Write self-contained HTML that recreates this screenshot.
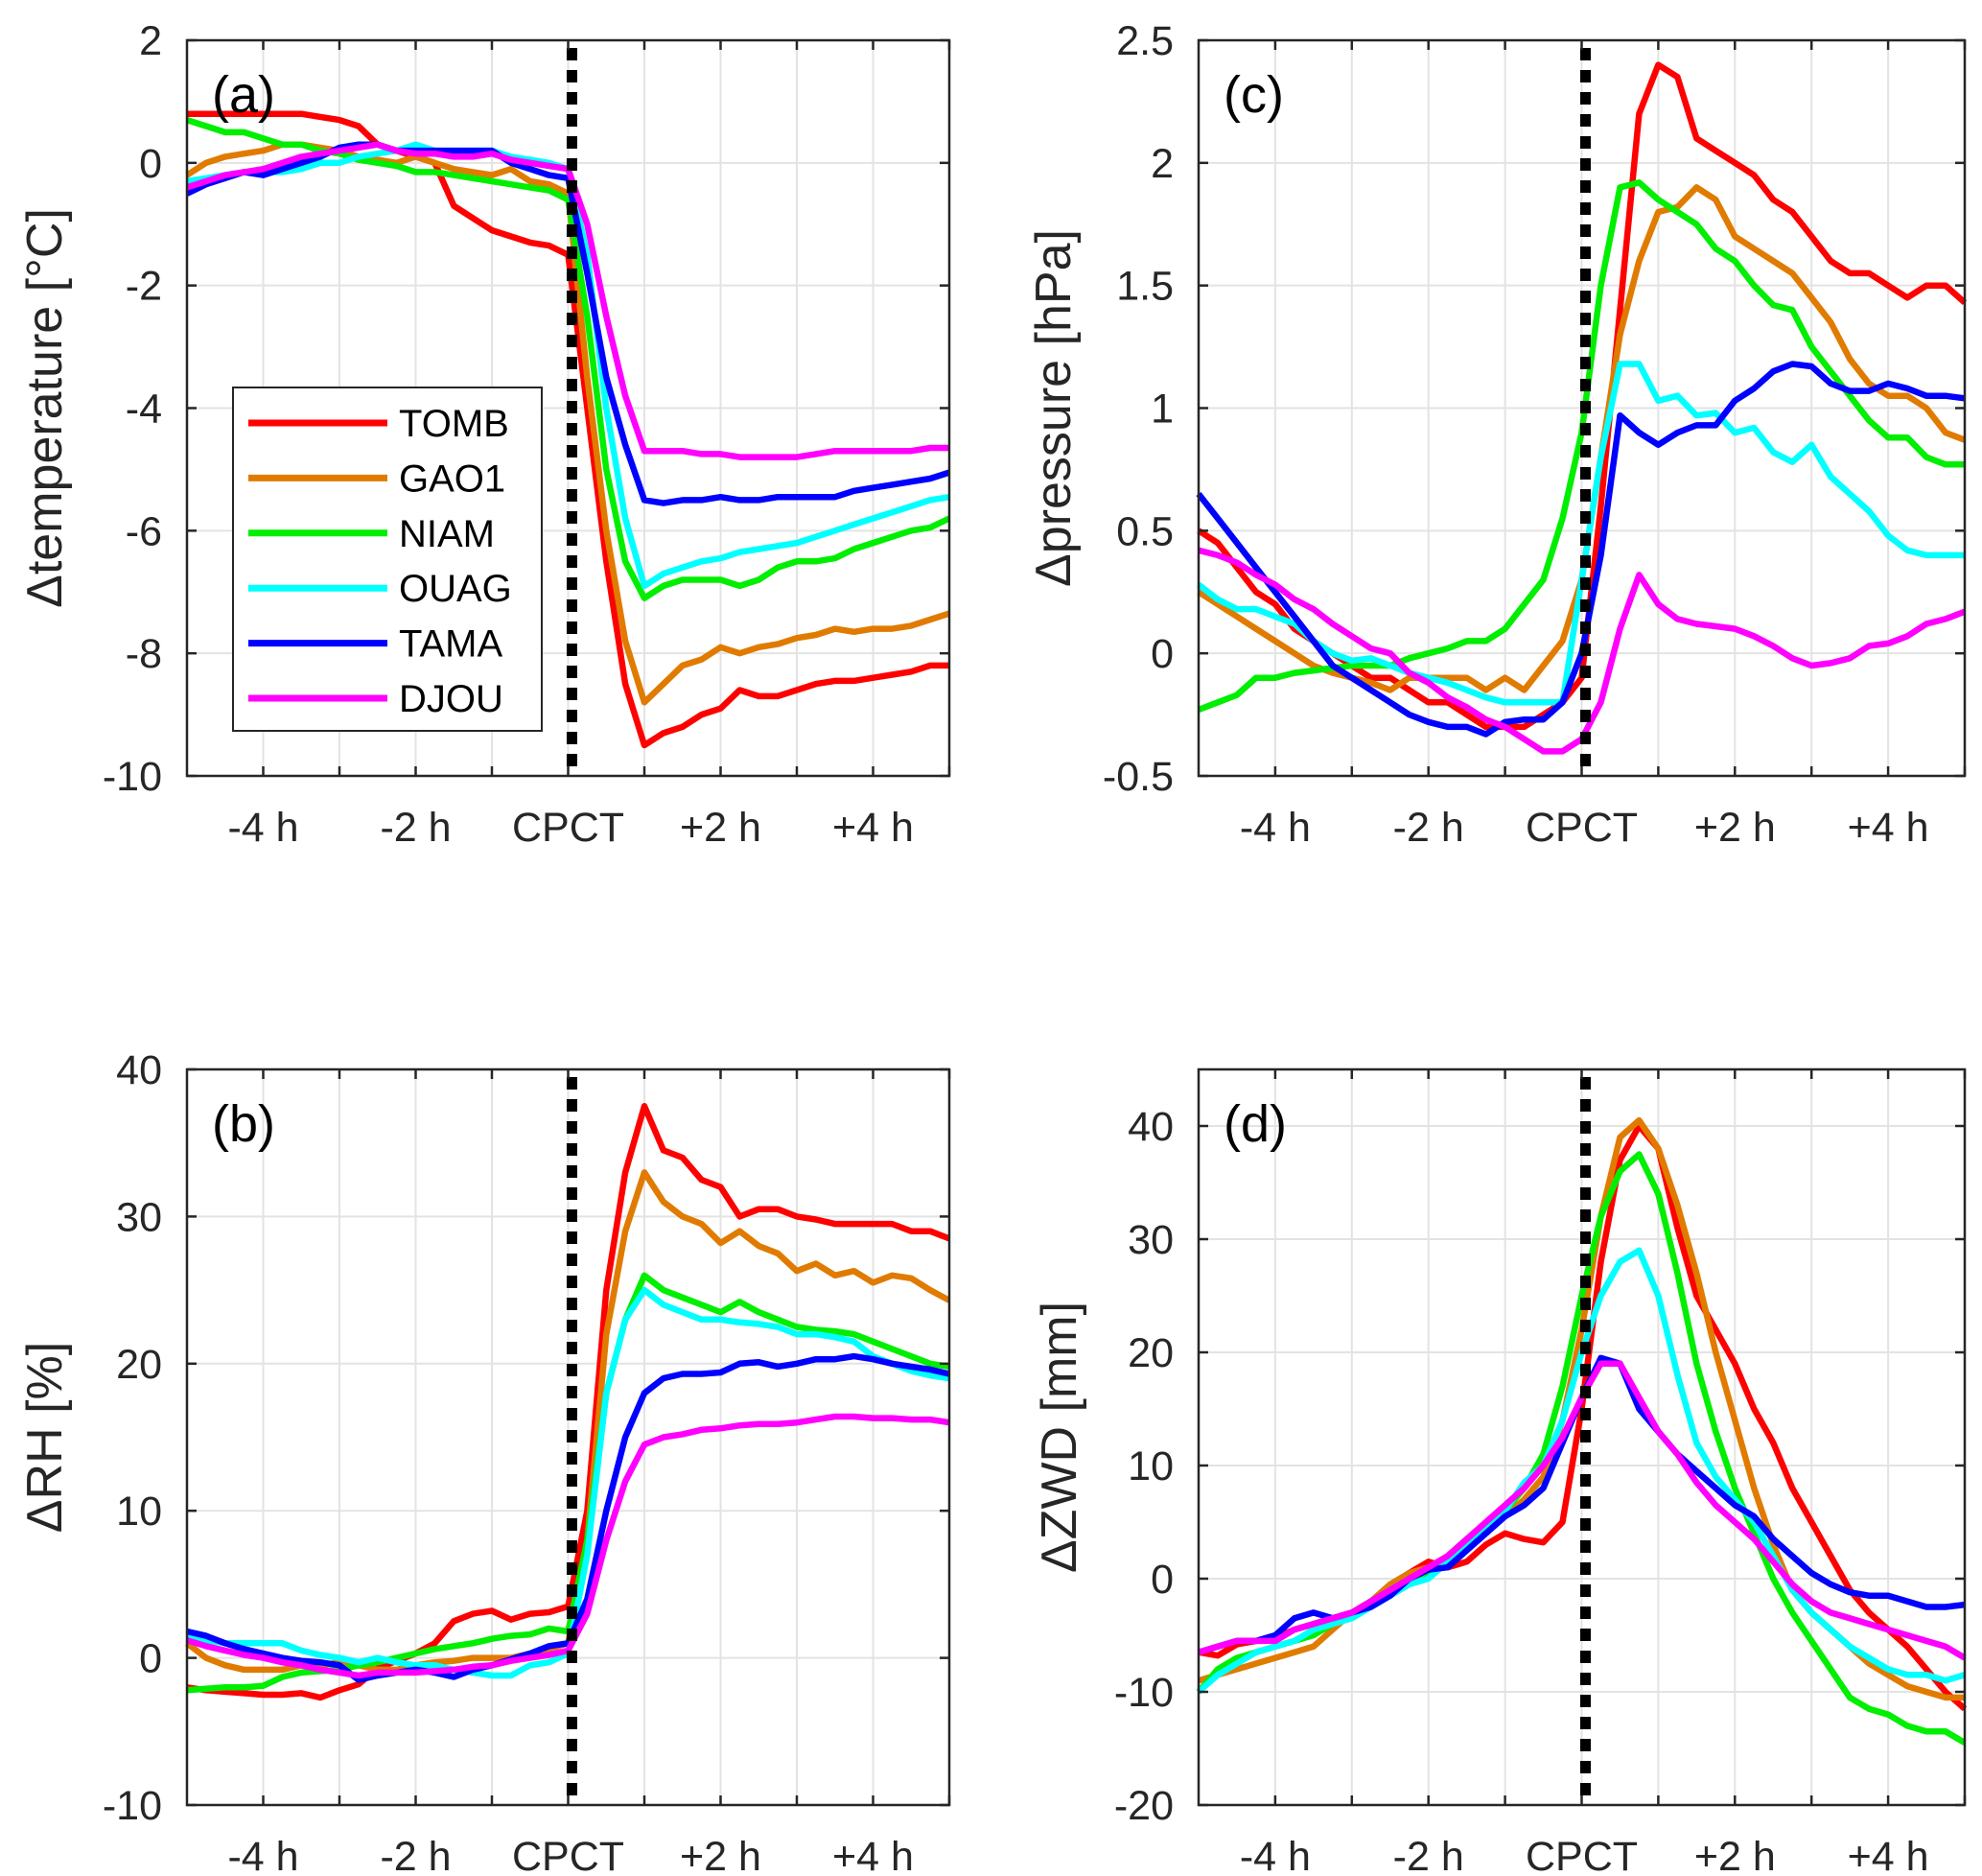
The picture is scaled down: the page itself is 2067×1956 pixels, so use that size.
<!DOCTYPE html>
<html><head><meta charset="utf-8"><style>
html,body{margin:0;padding:0;background:#fff;}
svg{display:block;font-family:"Liberation Sans",Arial,sans-serif;}
</style></head><body>
<svg id="fig" width="2067" height="1956" viewBox="0 0 2067 1956" xmlns="http://www.w3.org/2000/svg"></svg>
<script>
// shared time axis: -5 h .. +5 h every 15 min
const stations = ["TOMB","GAO1","NIAM","OUAG","TAMA","DJOU"];
const colors = ["#ff0000","#e07b00","#00ee00","#00ffff","#0000ff","#ff00ff"];
const xTickValues = [-4,-2,0,2,4];
const xTickLabels = ["-4 h","-2 h","CPCT","+2 h","+4 h"];

// (a) temperature
const tempTOMB = [0.8,0.8,0.8,0.8,0.8,0.8,0.8,0.75,0.7,0.6,0.3,0.2,0.1,0,-0.7,-0.9,-1.1,-1.2,-1.3,-1.35,-1.5,-4,-6.5,-8.5,-9.5,-9.3,-9.2,-9.0,-8.9,-8.6,-8.7,-8.7,-8.6,-8.5,-8.45,-8.45,-8.4,-8.35,-8.3,-8.2,-8.2];
const tempGAO1 = [-0.2,0,0.1,0.15,0.2,0.3,0.3,0.25,0.2,0.1,0.05,0,0.1,0,-0.1,-0.15,-0.2,-0.1,-0.3,-0.35,-0.5,-3.5,-6,-7.8,-8.8,-8.5,-8.2,-8.1,-7.9,-8.0,-7.9,-7.85,-7.75,-7.7,-7.6,-7.65,-7.6,-7.6,-7.55,-7.45,-7.35];
const tempNIAM = [0.7,0.6,0.5,0.5,0.4,0.3,0.3,0.2,0.15,0.05,0,-0.05,-0.15,-0.15,-0.2,-0.25,-0.3,-0.35,-0.4,-0.45,-0.6,-2.5,-5,-6.5,-7.1,-6.9,-6.8,-6.8,-6.8,-6.9,-6.8,-6.6,-6.5,-6.5,-6.45,-6.3,-6.2,-6.1,-6.0,-5.95,-5.8];
const tempOUAG = [-0.3,-0.25,-0.2,-0.15,-0.15,-0.15,-0.1,0,0,0.1,0.15,0.2,0.3,0.2,0.2,0.2,0.2,0.1,0.05,0,-0.1,-1.5,-4,-5.8,-6.9,-6.7,-6.6,-6.5,-6.45,-6.35,-6.3,-6.25,-6.2,-6.1,-6.0,-5.9,-5.8,-5.7,-5.6,-5.5,-5.45];
const tempTAMA = [-0.5,-0.35,-0.25,-0.15,-0.2,-0.1,0,0.1,0.25,0.3,0.3,0.2,0.2,0.2,0.2,0.2,0.2,0,-0.1,-0.2,-0.25,-1.8,-3.5,-4.6,-5.5,-5.55,-5.5,-5.5,-5.45,-5.5,-5.5,-5.45,-5.45,-5.45,-5.45,-5.35,-5.3,-5.25,-5.2,-5.15,-5.05];
const tempDJOU = [-0.4,-0.3,-0.2,-0.15,-0.1,0,0.1,0.15,0.2,0.25,0.3,0.2,0.15,0.15,0.1,0.1,0.15,0.05,0,-0.05,-0.1,-1,-2.5,-3.8,-4.7,-4.7,-4.7,-4.75,-4.75,-4.8,-4.8,-4.8,-4.8,-4.75,-4.7,-4.7,-4.7,-4.7,-4.7,-4.65,-4.65];

// (b) relative humidity
const rhTOMB = [-2,-2.2,-2.3,-2.4,-2.5,-2.5,-2.4,-2.7,-2.2,-1.8,-0.7,-0.2,0.3,1,2.5,3,3.2,2.6,3,3.1,3.5,10,25,33,37.5,34.5,34,32.5,32,30,30.5,30.5,30,29.8,29.5,29.5,29.5,29.5,29,29,28.5];
const rhGAO1 = [1,0,-0.5,-0.8,-0.8,-0.8,-0.5,-0.5,-0.3,-0.5,-0.8,-0.8,-0.5,-0.3,-0.2,0,0,0,0.3,0.6,1,8,22,29,33,31,30,29.5,28.2,29,28,27.5,26.3,26.8,26,26.3,25.5,26,25.8,25,24.3];
const rhNIAM = [-2.2,-2.1,-2,-2,-1.9,-1.3,-1,-0.9,-0.8,-0.5,-0.3,0,0.3,0.6,0.8,1,1.3,1.5,1.6,2,1.8,8,18,23,26,25,24.5,24,23.5,24.2,23.5,23,22.5,22.3,22.2,22,21.5,21,20.5,20,19.8];
const rhOUAG = [1.5,1.2,1,1,1,1,0.5,0.2,0,-0.3,0,-0.3,-0.5,-0.5,-0.8,-1,-1.2,-1.2,-0.5,-0.3,0.3,7,18,23,25,24,23.5,23,23,22.8,22.7,22.5,22,22,21.8,21.5,20.5,20,19.5,19.2,19];
const rhTAMA = [1.8,1.5,1,0.6,0.3,0,-0.2,-0.3,-0.5,-1.5,-1.2,-1,-0.8,-1,-1.3,-0.8,-0.5,-0.1,0.3,0.8,1,4,10,15,18,19,19.3,19.3,19.4,20,20.1,19.8,20,20.3,20.3,20.5,20.3,20,19.8,19.6,19.3];
const rhDJOU = [1.2,0.8,0.5,0.2,0,-0.3,-0.5,-0.8,-1,-1.2,-1,-1,-1,-0.9,-0.8,-0.6,-0.5,-0.2,0,0.2,0.5,3,8,12,14.5,15,15.2,15.5,15.6,15.8,15.9,15.9,16,16.2,16.4,16.4,16.3,16.3,16.2,16.2,16];

// (c) pressure
const pTOMB = [0.5,0.45,0.35,0.25,0.2,0.1,0.05,0,-0.05,-0.1,-0.1,-0.15,-0.2,-0.2,-0.25,-0.3,-0.3,-0.3,-0.25,-0.2,-0.1,0.6,1.4,2.2,2.4,2.35,2.1,2.05,2.0,1.95,1.85,1.8,1.7,1.6,1.55,1.55,1.5,1.45,1.5,1.5,1.43];
const pGAO1 = [0.25,0.2,0.15,0.1,0.05,0,-0.05,-0.08,-0.1,-0.12,-0.15,-0.1,-0.1,-0.1,-0.1,-0.15,-0.1,-0.15,-0.05,0.05,0.3,0.8,1.3,1.6,1.8,1.82,1.9,1.85,1.7,1.65,1.6,1.55,1.45,1.35,1.2,1.1,1.05,1.05,1.0,0.9,0.87];
const pNIAM = [-0.23,-0.2,-0.17,-0.1,-0.1,-0.08,-0.07,-0.06,-0.05,-0.05,-0.05,-0.02,0,0.02,0.05,0.05,0.1,0.2,0.3,0.55,0.9,1.5,1.9,1.92,1.85,1.8,1.75,1.65,1.6,1.5,1.42,1.4,1.25,1.15,1.05,0.95,0.88,0.88,0.8,0.77,0.77];
const pOUAG = [0.28,0.22,0.18,0.18,0.15,0.12,0.05,0,-0.03,-0.02,-0.05,-0.08,-0.1,-0.12,-0.15,-0.18,-0.2,-0.2,-0.2,-0.2,0.3,0.8,1.18,1.18,1.03,1.05,0.97,0.98,0.9,0.92,0.82,0.78,0.85,0.72,0.65,0.58,0.48,0.42,0.4,0.4,0.4];
const pTAMA = [0.65,0.55,0.45,0.35,0.25,0.15,0.05,-0.05,-0.1,-0.15,-0.2,-0.25,-0.28,-0.3,-0.3,-0.33,-0.28,-0.27,-0.27,-0.2,0,0.4,0.97,0.9,0.85,0.9,0.93,0.93,1.03,1.08,1.15,1.18,1.17,1.1,1.07,1.07,1.1,1.08,1.05,1.05,1.04];
const pDJOU = [0.42,0.4,0.37,0.32,0.28,0.22,0.18,0.12,0.07,0.02,0,-0.08,-0.12,-0.18,-0.22,-0.27,-0.3,-0.35,-0.4,-0.4,-0.35,-0.2,0.1,0.32,0.2,0.14,0.12,0.11,0.1,0.07,0.03,-0.02,-0.05,-0.04,-0.02,0.03,0.04,0.07,0.12,0.14,0.17];

// (d) zenith wet delay
const zTOMB = [-6.5,-6.8,-5.8,-5.5,-5.2,-4.5,-4,-3.5,-3,-2,-0.8,0.5,1.5,1,1.5,3,4,3.5,3.2,5,15,28,37,40,38,31,25,22,19,15,12,8,5,2,-1,-3,-4.5,-6,-8,-10,-11.5];
const zGAO1 = [-9,-8.5,-8,-7.5,-7,-6.5,-6,-4.5,-3,-2,-0.5,0.5,1,2,3.5,4.5,5.5,7,9,14,22,32,39,40.5,38,33,27,20,14,8,3,-1,-3,-4.5,-6,-7.5,-8.5,-9.5,-10,-10.5,-10.5];
const zNIAM = [-10,-8,-7,-6.5,-6,-5.5,-5,-4,-3,-2,-1,0,0.5,1.5,3,4.5,6,8,11,17,25,32,36,37.5,34,27,19,13,8,4,0,-3,-5.5,-8,-10.5,-11.5,-12,-13,-13.5,-13.5,-14.5];
const zOUAG = [-10,-8.5,-7.5,-6.5,-6,-5.5,-4.5,-4,-3.5,-2.5,-1.5,-0.5,0,1.5,3,4.5,6,8.5,10,14,20,25,28,29,25,18,12,9,7,5,2,-1,-3,-4.5,-6,-7,-8,-8.5,-8.5,-9,-8.5];
const zTAMA = [-6.5,-6,-5.5,-5.5,-5,-3.5,-3,-3.5,-3,-2.5,-1.5,0,0.8,1,2.5,4,5.5,6.5,8,12,16,19.5,19,15,13,11,9.5,8,6.5,5.5,3.5,2,0.5,-0.5,-1.2,-1.5,-1.5,-2,-2.5,-2.5,-2.3];
const zDJOU = [-6.5,-6,-5.5,-5.5,-5.5,-4.5,-4,-3.5,-3,-2,-1,0,1,2,3.5,5,6.5,8,10,12.5,16,19,19,16,13,11,8.5,6.5,5,3.5,1.5,-0.5,-2,-3,-3.5,-4,-4.5,-5,-5.5,-6,-7];

const tempTicks = [2,0,-2,-4,-6,-8,-10];
const rhTicks = [40,30,20,10,0,-10];
const pTicks = [2.5,2,1.5,1,0.5,0,-0.5];
const zTicks = [40,30,20,10,0,-10,-20];

const NS = "http://www.w3.org/2000/svg";
const svg = document.getElementById("fig");
function mk(tag, attrs, parent){
  const e = document.createElementNS(NS, tag);
  for (const k in attrs) e.setAttribute(k, attrs[k]);
  (parent||svg).appendChild(e);
  return e;
}

function panel(opt){
  const g = mk("g", {});
  
  
  const L=opt.x0, R=opt.x1, T=opt.y0, B=opt.y1;
  const xs = h => L + (h + 5) / 10 * (R - L);
  const ys = v => B - (v - opt.ymin) / (opt.ymax - opt.ymin) * (B - T);
  for (let h = -4; h <= 4; h++) {
    const gl = mk("line", {x1: xs(h), x2: xs(h), y1: T, y2: B, stroke: "#e3e3e3", "stroke-width": 2}, g);
    
    
  }
  opt.ticks.forEach(v => {
    const gl = mk("line", {x1: L, x2: R, y1: ys(v), y2: ys(v), stroke: "#e3e3e3", "stroke-width": 2}, g);
    
    
  });
  opt.series.forEach((arr, si) => {
    let d = "";
    arr.forEach((v, i) => { d += (i ? "L" : "M") + xs(-5 + 0.25 * i).toFixed(1) + "," + ys(v).toFixed(1); });
    const p = mk("path", {d: d, fill: "none", stroke: colors[si], "stroke-width": 6.5, "stroke-linejoin": "round"}, g);
    
    
  });
  const cp = mk("line", {x1: xs(0.05), x2: xs(0.05), y1: T + 8, y2: B, stroke: "#000", "stroke-width": 11, "stroke-dasharray": "13 10"}, g);
  
  
  const box = mk("rect", {x: L, y: T, width: R - L, height: B - T, fill: "none", stroke: "#262626", "stroke-width": 2.5}, g);
  
  
  for (let h = -4; h <= 5; h++) {
    mk("line", {x1: xs(h), x2: xs(h), y1: B, y2: B - 10, stroke: "#262626", "stroke-width": 2.5}, g);
    mk("line", {x1: xs(h), x2: xs(h), y1: T, y2: T + 10, stroke: "#262626", "stroke-width": 2.5}, g);
  }
  opt.ticks.forEach(v => {
    mk("line", {x1: L, x2: L + 10, y1: ys(v), y2: ys(v), stroke: "#262626", "stroke-width": 2.5}, g);
    mk("line", {x1: R, x2: R - 10, y1: ys(v), y2: ys(v), stroke: "#262626", "stroke-width": 2.5}, g);
    const t = mk("text", {x: L - 26, y: ys(v) + 15, "text-anchor": "end", "font-size": 43, fill: "#262626"}, g);
    t.textContent = String(v);
    
    
  });
  xTickValues.forEach((h, i) => {
    const t = mk("text", {x: xs(h), y: B + 68, "text-anchor": "middle", "font-size": 43, fill: "#262626"}, g);
    t.textContent = xTickLabels[i];
    
    
  });
  const yl = mk("text", {x: 0, y: 0, transform: "translate(" + opt.ylx + "," + ((T + B) / 2) + ") rotate(-90)", "text-anchor": "middle", "font-size": 52, fill: "#262626"}, g);
  yl.textContent = opt.ylabel;
  
  
  const pl = mk("text", {x: L + 26, y: T + 75, "font-size": 54, fill: "#000"}, g);
  pl.textContent = opt.label;
  
  
}

panel({name:"panel-a-temperature", x0:195, x1:990, y0:42, y1:809, ymin:-10, ymax:2, ticks:tempTicks, ylabel:"\u0394temperature [\u00b0C]", ylx:64, label:"(a)", series:[tempTOMB,tempGAO1,tempNIAM,tempOUAG,tempTAMA,tempDJOU]});
panel({name:"panel-b-rh", x0:195, x1:990, y0:1115, y1:1882, ymin:-10, ymax:40, ticks:rhTicks, ylabel:"\u0394RH [%]", ylx:64, label:"(b)", series:[rhTOMB,rhGAO1,rhNIAM,rhOUAG,rhTAMA,rhDJOU]});
panel({name:"panel-c-pressure", x0:1250, x1:2049, y0:42, y1:809, ymin:-0.5, ymax:2.5, ticks:pTicks, ylabel:"\u0394pressure [hPa]", ylx:1116, label:"(c)", series:[pTOMB,pGAO1,pNIAM,pOUAG,pTAMA,pDJOU]});
panel({name:"panel-d-zwd", x0:1250, x1:2049, y0:1115, y1:1882, ymin:-20, ymax:45, ticks:zTicks, ylabel:"\u0394ZWD [mm]", ylx:1122, label:"(d)", series:[zTOMB,zGAO1,zNIAM,zOUAG,zTAMA,zDJOU]});

const lg = mk("g", {});


const lbox = mk("rect", {x: 243, y: 404, width: 322, height: 358, fill: "#fff", stroke: "#262626", "stroke-width": 2}, lg);


stations.forEach((s, i) => {
  const y = 441 + i * 57.4;
  const ln = mk("line", {x1: 259, x2: 404, y1: y, y2: y, stroke: colors[i], "stroke-width": 7}, lg);
  
  
  const t = mk("text", {x: 416, y: y + 14, "font-size": 40, fill: "#000"}, lg);
  t.textContent = s;
  
  
});
</script>
</body></html>
